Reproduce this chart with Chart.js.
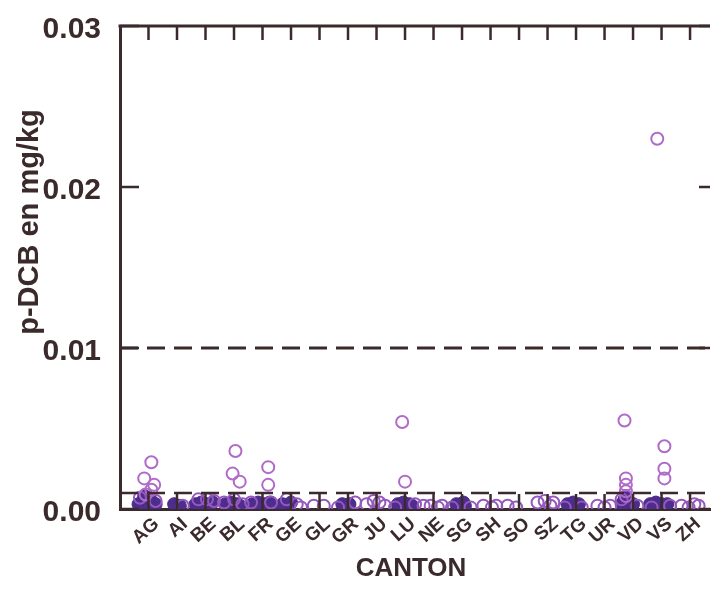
<html>
<head>
    <title>p-DCB par canton</title>
    <script src="https://cdn.jsdelivr.net/npm/chart.js"></script>
    <style>
        html, body { margin: 0; padding: 0; background: #fff; }
        #wrap { width: 718px; height: 590px; }
    </style>
</head>
<body>
    <div id="wrap"><canvas id="cantonChart" width="718" height="590"></canvas></div>

    <script>
        const cantons = ['AG','AI','BE','BL','FR','GE','GL','GR','JU','LU','NE','SG','SH','SO','SZ','TG','UR','VD','VS','ZH'];
        const yTicks = [0, 0.01, 0.02, 0.03];
        const limitValues = [0.01, 0.001];

        // [canton, horizontal jitter (in category units), value mg/kg]
        const highPoints = [
            ['AG', 0.1, 0.0029], ['AG', -0.15, 0.0019], ['AG', 0.2, 0.0015], ['AG', 0.1, 0.0012], ['AG', -0.1, 0.0009],
            ['BL', 0.05, 0.0036], ['BL', -0.05, 0.0022], ['BL', 0.2, 0.0017],
            ['FR', 0.2, 0.0026], ['FR', 0.2, 0.0015],
            ['LU', -0.1, 0.0054], ['LU', 0.0, 0.0017],
            ['VD', -0.3, 0.0055], ['VD', -0.25, 0.0019], ['VD', -0.25, 0.0015], ['VD', -0.25, 0.0011], ['VD', -0.25, 0.0008],
            ['VS', -0.15, 0.023], ['VS', 0.1, 0.0039], ['VS', 0.1, 0.0025], ['VS', 0.1, 0.0019]
        ];

        const densePoints = [
            ['AG', -0.35, 0.0003], ['AG', -0.2, 0.0005], ['AG', -0.05, 0.0003], ['AG', 0.1, 0.0005], ['AG', 0.25, 0.0003],
            ['AG', -0.25, 0.0002], ['AG', 0.05, 0.0002], ['AG', 0.0, 0.0007], ['AG', -0.15, 0.0008],
            ['AI', -0.1, 0.0003], ['AI', 0.1, 0.0002],
            ['BE', -0.35, 0.0003], ['BE', -0.15, 0.0004], ['BE', 0.05, 0.0003], ['BE', 0.25, 0.0004], ['BE', -0.25, 0.0002], ['BE', 0.15, 0.0002],
            ['BL', -0.3, 0.0003], ['BL', -0.1, 0.0004], ['BL', 0.1, 0.0003], ['BL', 0.2, 0.0002],
            ['FR', -0.35, 0.0003], ['FR', -0.15, 0.0004], ['FR', 0.05, 0.0003], ['FR', 0.25, 0.0004], ['FR', 0.35, 0.0002], ['FR', -0.25, 0.0002],
            ['GE', -0.3, 0.0003], ['GE', 0.0, 0.0004],
            ['GR', -0.2, 0.0003], ['GR', 0.05, 0.0003],
            ['LU', -0.25, 0.0003], ['LU', -0.05, 0.0004], ['LU', 0.15, 0.0003], ['LU', 0.25, 0.0002],
            ['SG', -0.2, 0.0003], ['SG', 0.05, 0.0004], ['SG', 0.1, 0.0002],
            ['TG', -0.3, 0.0003], ['TG', -0.1, 0.0004], ['TG', 0.1, 0.0003],
            ['VD', -0.4, 0.0003], ['VD', -0.2, 0.0004], ['VD', 0.0, 0.0003], ['VD', -0.3, 0.0006], ['VD', -0.25, 0.0008],
            ['VS', -0.4, 0.0003], ['VS', -0.2, 0.0004], ['VS', 0.0, 0.0003], ['VS', 0.2, 0.0003]
        ];

        const lowPoints = [
            ['AG', -0.3, 0.0007], ['AG', 0.25, 0.0005],
            ['AI', 0.2, 0.0002],
            ['BE', -0.25, 0.0006], ['BE', 0.3, 0.0005], ['BE', 0.05, 0.0006],
            ['BL', -0.35, 0.0004], ['BL', 0.3, 0.0003], ['BL', 0.0, 0.0006],
            ['FR', -0.4, 0.0004], ['FR', 0.3, 0.0004],
            ['GE', -0.15, 0.0006], ['GE', 0.2, 0.0003], ['GE', 0.35, 0.0001],
            ['GL', -0.2, 0.0002], ['GL', 0.15, 0.0002],
            ['GR', -0.35, 0.0001], ['GR', 0.25, 0.0004],
            ['JU', -0.35, 0.0003], ['JU', -0.1, 0.0005], ['JU', 0.1, 0.0004], ['JU', 0.3, 0.0002],
            ['LU', -0.35, 0.0001], ['LU', 0.35, 0.0003],
            ['NE', -0.35, 0.0002], ['NE', -0.1, 0.0002], ['NE', 0.15, 0.0001], ['NE', 0.3, 0.0002],
            ['SG', -0.35, 0.0001], ['SG', 0.3, 0.0001],
            ['SH', -0.25, 0.0002], ['SH', 0.05, 0.0001], ['SH', 0.2, 0.0002],
            ['SO', -0.4, 0.0002], ['SO', -0.1, 0.0001],
            ['SZ', -0.35, 0.0004], ['SZ', -0.1, 0.0005], ['SZ', 0.1, 0.0002], ['SZ', 0.2, 0.0004],
            ['TG', -0.4, 0.0001], ['TG', 0.2, 0.0001],
            ['UR', -0.25, 0.0002], ['UR', 0.0, 0.0001], ['UR', 0.2, 0.0002],
            ['VD', -0.4, 0.0006], ['VD', 0.15, 0.0002],
            ['VS', -0.35, 0.0001], ['VS', 0.3, 0.0002],
            ['ZH', -0.3, 0.0002], ['ZH', -0.05, 0.0001], ['ZH', 0.15, 0.0003], ['ZH', 0.3, 0.0002]
        ];

        const ink = '#3b2a2c';
        const xMin = -1, xMax = 19.7;

        function toXY(list) {
            return list.map(p => ({ x: cantons.indexOf(p[0]) + p[1], y: p[2] }));
        }

        // inward tick marks + top frame line, the way the original plot draws them
        const frameTicks = {
            id: 'frameTicks',
            afterDatasetsDraw(chart) {
                const { ctx, chartArea: a, scales: { x, y } } = chart;
                ctx.save();
                ctx.strokeStyle = ink;
                ctx.lineWidth = 3;
                ctx.beginPath();
                ctx.moveTo(a.left - 1.5, a.top);
                ctx.lineTo(a.right, a.top);
                ctx.stroke();
                ctx.lineWidth = 2.5;
                cantons.forEach((c, i) => {
                    const px = x.getPixelForValue(i);
                    ctx.beginPath();
                    ctx.moveTo(px, a.top);
                    ctx.lineTo(px, a.top + 14);
                    ctx.moveTo(px, a.bottom);
                    ctx.lineTo(px, a.bottom - 15);
                    ctx.stroke();
                });
                yTicks.forEach(v => {
                    const py = y.getPixelForValue(v);
                    ctx.beginPath();
                    ctx.moveTo(a.left, py);
                    ctx.lineTo(a.left + 19, py);
                    ctx.moveTo(a.right, py);
                    ctx.lineTo(a.right - 11, py);
                    ctx.stroke();
                });
                ctx.restore();
            },
            afterDraw(chart) {
                const { ctx } = chart;
                ctx.save();
                ctx.fillStyle = ink;
                ctx.textAlign = 'center';
                ctx.textBaseline = 'middle';
                ctx.font = 'bold 26px "Liberation Sans", Arial, sans-serif';
                ctx.fillText('CANTON', 411, 569);
                ctx.translate(30, 222);
                ctx.rotate(-Math.PI / 2);
                ctx.font = 'bold 29px "Liberation Sans", Arial, sans-serif';
                ctx.fillText('p-DCB en mg/kg', 0, 0);
                ctx.restore();
            }
        };

        const limitSets = limitValues.map(v => ({
            type: 'line',
            data: [{ x: xMin, y: v }, { x: xMax, y: v }],
            borderColor: ink,
            borderWidth: v === 0.01 ? 3 : 2.5,
            borderDash: [18, 9],
            pointRadius: 0,
            fill: false
        }));

        new Chart(document.getElementById('cantonChart').getContext('2d'), {
            type: 'scatter',
            data: {
                datasets: [
                    ...limitSets,
                    {
                        label: 'p-DCB',
                        data: toXY(highPoints),
                        pointRadius: 6,
                        pointBorderWidth: 2,
                        pointBorderColor: '#b06bc9',
                        pointBackgroundColor: 'rgba(255,255,255,0)'
                    },
                    {
                        label: 'p-DCB bas',
                        data: toXY(lowPoints),
                        pointRadius: 6,
                        pointBorderWidth: 2,
                        pointBorderColor: '#9558bd',
                        pointBackgroundColor: 'rgba(255,255,255,0)'
                    },
                    {
                        label: 'p-DCB dense',
                        data: toXY(densePoints),
                        pointRadius: 6.5,
                        pointBorderWidth: 1,
                        pointBorderColor: '#4a2b88',
                        pointBackgroundColor: '#4d2d8e'
                    }
                ]
            },
            options: {
                responsive: false,
                animation: false,
                layout: { padding: { top: 26, right: 0, left: 0, bottom: 0 } },
                plugins: { legend: { display: false }, tooltip: { enabled: false } },
                scales: {
                    x: {
                        type: 'linear',
                        min: xMin,
                        max: xMax,
                        afterBuildTicks: s => { s.ticks = cantons.map((c, i) => ({ value: i })); },
                        afterFit: s => { s.height = 81; s.paddingLeft = 0; s.paddingRight = 0; },
                        grid: { display: false, drawTicks: false },
                        border: { display: true, color: ink, width: 3 },
                        ticks: {
                            autoSkip: false,
                            minRotation: 42,
                            maxRotation: 42,
                            padding: 4,
                            labelOffset: 8,
                            color: ink,
                            font: { family: '"Liberation Sans", Arial, sans-serif', size: 19, weight: 'bold' },
                            callback: v => cantons[v] ?? ''
                        }
                    },
                    y: {
                        min: 0,
                        max: 0.03,
                        afterBuildTicks: s => { s.ticks = yTicks.map(v => ({ value: v })); },
                        afterFit: s => { s.width = 120; s.paddingTop = 0; s.paddingBottom = 0; },
                        grid: { display: false, drawTicks: false },
                        border: { display: true, color: ink, width: 3 },
                        ticks: {
                            padding: 19,
                            labelOffset: 4,
                            color: ink,
                            font: { family: '"Liberation Sans", Arial, sans-serif', size: 30, weight: 'bold' },
                            callback: v => v.toFixed(2)
                        }
                    }
                }
            },
            plugins: [frameTicks]
        });
    </script>
</body>
</html>
